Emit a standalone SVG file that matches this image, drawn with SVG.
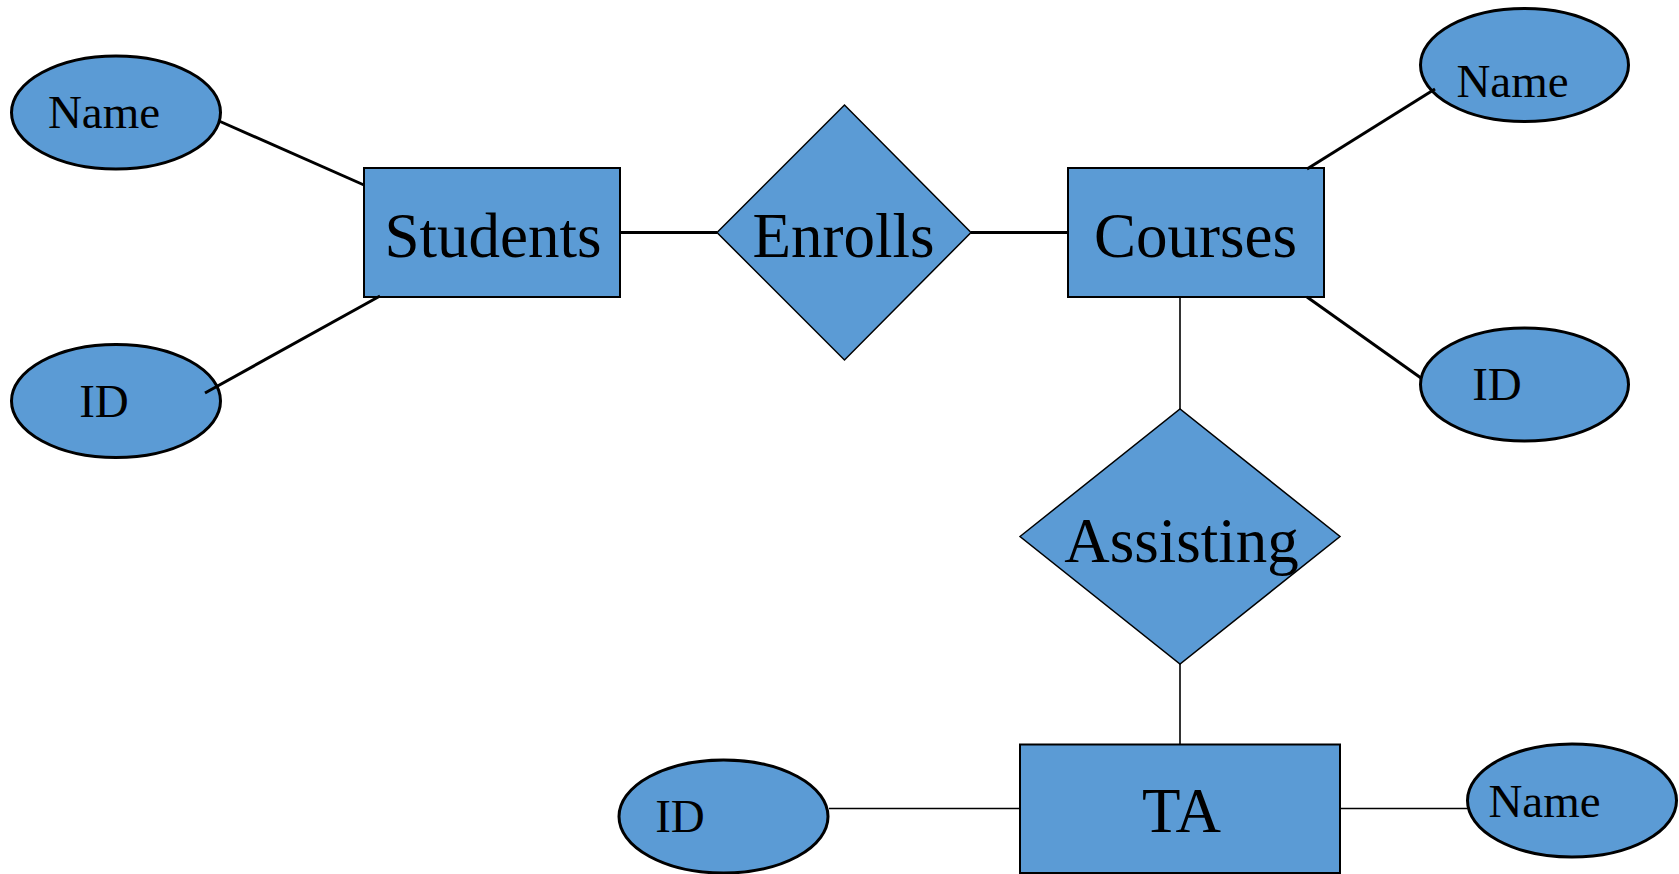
<svg xmlns="http://www.w3.org/2000/svg" width="1679" height="874" viewBox="0 0 1679 874">
<style>
.ent{fill:#5B9BD5;stroke:#000;stroke-width:2}
.rel{fill:#5B9BD5;stroke:#000;stroke-width:1.5}
.att{fill:#5B9BD5;stroke:#000;stroke-width:3}
.thick{stroke:#000;stroke-width:3;fill:none}
.thin{stroke:#000;stroke-width:1.6;fill:none}
.big{font-family:"Liberation Serif","Times New Roman",serif;font-size:63px;text-anchor:middle;fill:#000}
.small{font-family:"Liberation Serif","Times New Roman",serif;font-size:47px;text-anchor:middle;fill:#000}
</style>
<rect width="1679" height="874" fill="#fff"/>
<g id="students">
<rect class="ent" x="364" y="168" width="256" height="129"/>
<text class="big" x="493" y="257">Students</text>
</g>
<g id="students-name">
<ellipse class="att" cx="116" cy="112.5" rx="104.5" ry="56.5"/>
<text class="small" x="104" y="128">Name</text>
</g>
<g id="students-id">
<ellipse class="att" cx="116" cy="401" rx="104.5" ry="56.5"/>
<text class="small" x="104" y="416.5">ID</text>
</g>
<g id="enrolls">
<polygon class="rel" points="717,232.5 844.5,105 971,232.5 844.5,360"/>
<text class="big" x="843.5" y="256.5">Enrolls</text>
</g>
<g id="courses">
<rect class="ent" x="1068" y="168" width="256" height="129"/>
<text class="big" x="1195.5" y="256.5">Courses</text>
</g>
<g id="courses-name">
<ellipse class="att" cx="1524.5" cy="65" rx="104" ry="56.5"/>
<text class="small" x="1512.5" y="96.5">Name</text>
</g>
<g id="courses-id">
<ellipse class="att" cx="1524.5" cy="384.5" rx="104" ry="56.5"/>
<text class="small" x="1497" y="400">ID</text>
</g>
<g id="assisting">
<polygon class="rel" points="1020,536.5 1180,409 1340,536.5 1180,664"/>
<text class="big" x="1181.5" y="561.5">Assisting</text>
</g>
<g id="ta">
<rect class="ent" x="1020" y="744.5" width="320" height="128.5"/>
<text class="big" x="1181.5" y="832">TA</text>
</g>
<g id="ta-id">
<ellipse class="att" cx="723.5" cy="816.5" rx="104.5" ry="56.5"/>
<text class="small" x="680" y="832">ID</text>
</g>
<g id="ta-name">
<ellipse class="att" cx="1572" cy="800.5" rx="104.5" ry="56.5"/>
<text class="small" x="1544.5" y="816.5">Name</text>
</g>
<g id="connectors">
<line class="thick" x1="219" y1="121" x2="364" y2="185"/>
<line class="thick" x1="205" y1="393" x2="380" y2="296"/>
<line class="thick" x1="620" y1="232.5" x2="717" y2="232.5"/>
<line class="thick" x1="971" y1="232.5" x2="1068" y2="232.5"/>
<line class="thick" x1="1307" y1="169" x2="1435" y2="89"/>
<line class="thick" x1="1307" y1="297" x2="1421" y2="378"/>
<line class="thin" x1="1180" y1="297" x2="1180" y2="409"/>
<line class="thin" x1="1180" y1="664" x2="1180" y2="744.5"/>
<line class="thin" x1="829" y1="808.5" x2="1020" y2="808.5"/>
<line class="thin" x1="1340" y1="808.5" x2="1468" y2="808.5"/>
</g>
</svg>
